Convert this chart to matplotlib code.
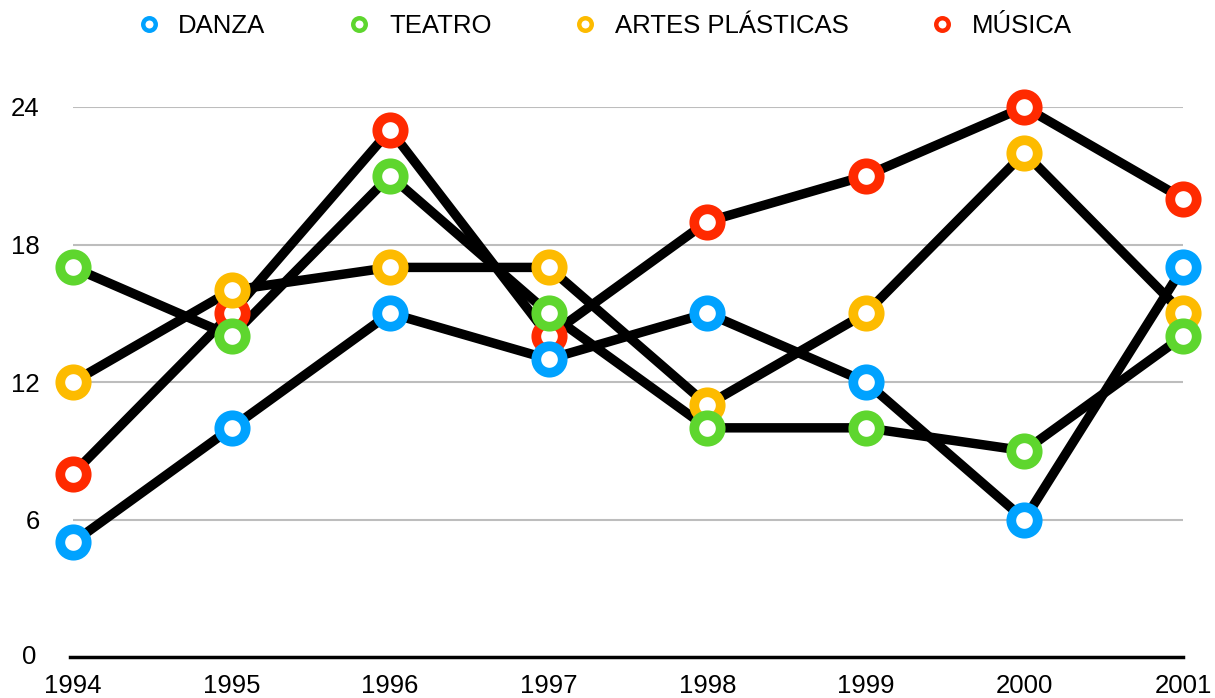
import matplotlib
matplotlib.use("Agg")
import matplotlib.pyplot as plt
from matplotlib.lines import Line2D

years = [1994, 1995, 1996, 1997, 1998, 1999, 2000, 2001]
danza = [5, 10, 15, 13, 15, 12, 6, 17]
teatro = [17, 14, 21, 15, 10, 10, 9, 14]
artes = [12, 16, 17, 17, 11, 15, 22, 15]
musica = [8, 15, 23, 14, 19, 21, 24, 20]
yticks = [0, 6, 12, 18, 24]

plt.rcParams['font.family'] = ['Liberation Sans', 'DejaVu Sans']

fig = plt.figure(figsize=(12.15, 6.98), dpi=100)
ax = fig.add_axes([73 / 1215, 41 / 698, 1110 / 1215, 550 / 698])

# order matters: musica at the bottom, danza on top
series = [
    ("MÚSICA", musica, "#ff2a00"),
    ("ARTES PLÁSTICAS", artes, "#fdbb00"),
    ("TEATRO", teatro, "#5ed62e"),
    ("DANZA", danza, "#00a2ff"),
]

xs = list(range(len(years)))
for name, vals, col in series:
    ax.plot(xs, vals, color="black", lw=6.8, solid_joinstyle="miter",
            zorder=2, clip_on=False)
for name, vals, col in series:
    ax.plot(xs, vals, ls="none", marker="o", ms=19, mew=7, mec=col, mfc="white",
            zorder=3, clip_on=False)

ax.set_xlim(0, len(years) - 1)
ax.set_ylim(0, 24)
ax.set_yticks(yticks[1:])
ax.set_yticklabels([str(t) for t in yticks[1:]])
ax.yaxis.grid(True, color="#bdbdbd", lw=1.5)
ax.set_axisbelow(True)
ax.set_xticks(xs)
ax.set_xticklabels([str(y) for y in years])
ax.tick_params(length=0, labelsize=18.5, pad=12)
ax.tick_params(axis="y", pad=24)
for s in ax.spines.values():
    s.set_visible(False)
ax.axhline(0, color="black", lw=2.5, xmin=-0.003, clip_on=False, zorder=1)
ax.text(-0.033, 0, "0", transform=ax.get_yaxis_transform(), ha="right",
        va="center", fontsize=18.5)

handles = [Line2D([], [], ls="none", marker="o", ms=9, mew=3.2, mec=col, mfc="white",
                  label=name) for name, vals, col in reversed(series)]
fig.legend(handles=handles, loc="upper center", bbox_to_anchor=(0.496, 1.013), ncol=4,
           frameon=False, fontsize=18.5, columnspacing=3.05, handletextpad=0.55,
           handlelength=1.2)

fig.savefig("out.png", dpi=100)
